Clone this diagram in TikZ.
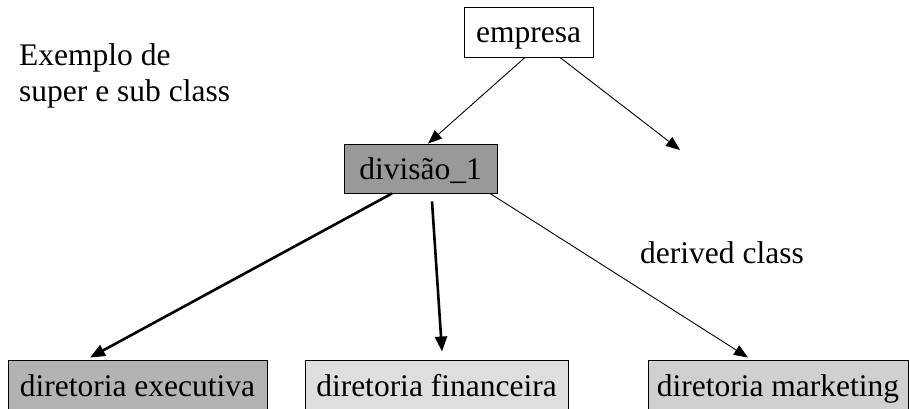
\documentclass[tikz,border=0pt]{standalone}
\usepackage{fontspec}
\setmainfont{Liberation Serif}
\usetikzlibrary{arrows.meta}
\definecolor{divfill}{HTML}{999999}
\definecolor{execfill}{HTML}{B3B3B3}
\definecolor{finfill}{HTML}{DEDEDE}
\definecolor{mktfill}{HTML}{D0D0D0}
\begin{document}
\begin{tikzpicture}[x=1pt,y=-1pt,
  font=\fontsize{31.5}{36}\selectfont,
  classbox/.style={draw=black,line width=0.9pt,rectangle,inner sep=0pt,
    text height=24pt,text depth=2pt,align=center},
  label/.style={inner sep=0pt,anchor=base west},
  thinarrow/.style={line width=0.9pt,-{Triangle[length=14pt,width=11pt]}},
  thickarrow/.style={line width=2.6pt,-{Triangle[length=15pt,width=12pt]}}]
\useasboundingbox (0,0) rectangle (910,409);

% class boxes
\node[classbox,fill=white,minimum width=129pt,minimum height=50pt] (empresa) at (528.5,32) {empresa};
\node[classbox,fill=divfill,minimum width=153pt,minimum height=49pt] (div) at (420.5,168.5) {divisão\_1};
\node[classbox,fill=execfill,minimum width=259pt,minimum height=50pt] (exec) at (137.5,385) {diretoria executiva};
\node[classbox,fill=finfill,minimum width=263pt,minimum height=50pt] (fin) at (436.5,385) {diretoria financeira};
\node[classbox,fill=mktfill,minimum width=260pt,minimum height=50pt] (mkt) at (778,385) {diretoria marketing};

% free text
\node[label] (t1) at (19,66) {Exemplo de};
\node[label] (t2) at (19,102) {super e sub class};
\node[label] (t3) at (640,263) {derived class};

\coordinate (derived) at (680,150);

% connectors
\draw[thinarrow] ([xshift=-3.5pt]empresa.south) -- ([xshift=7.5pt]div.north);
\draw[thinarrow] ([xshift=31.5pt]empresa.south) -- (derived);
\draw[thickarrow] ([xshift=-28.5pt]div.south) -- ([xshift=-47.5pt,yshift=2pt]exec.north);
\draw[thickarrow] ([xshift=11.5pt,yshift=-8pt]div.south) -- ([xshift=5.5pt,yshift=8pt]fin.north);
\draw[thinarrow] ([xshift=69.5pt]div.south) -- ([xshift=-30pt,yshift=2pt]mkt.north);
\end{tikzpicture}
\end{document}
